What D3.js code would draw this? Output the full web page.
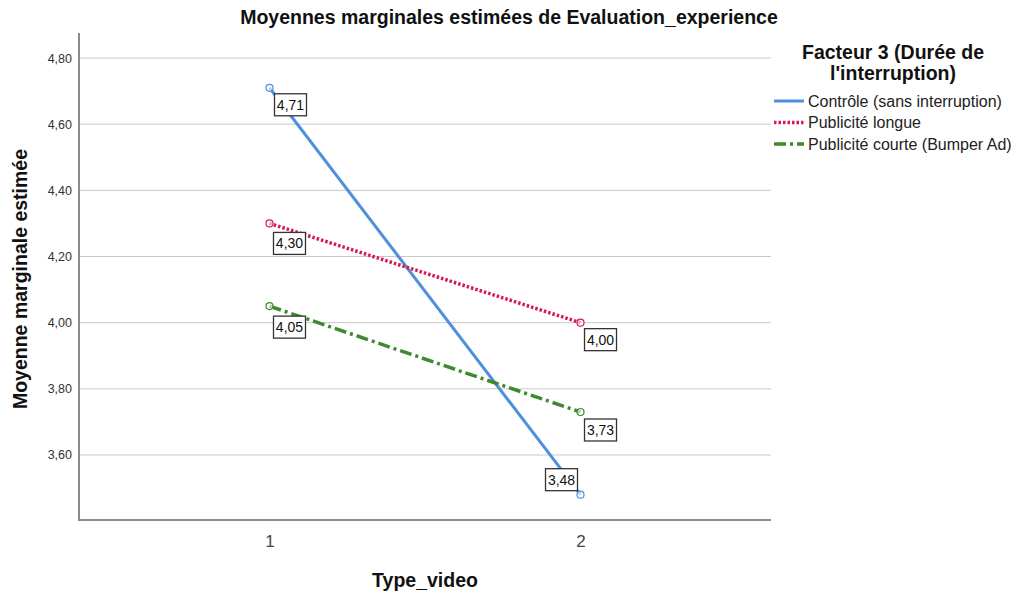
<!DOCTYPE html>
<html><head><meta charset="utf-8">
<script src="https://cdn.jsdelivr.net/npm/d3@7"></script>
<style>body{margin:0;background:#fff;}svg{display:block;font-family:Arial,"Liberation Sans",sans-serif;}</style>
</head><body>
<svg id="c" width="1017" height="591"></svg>
<script>
const categories = ["1", "2"];
const seriesNames = ["Contrôle (sans interruption)", "Publicité longue", "Publicité courte (Bumper Ad)"];
const controle = [4.71, 3.48];
const longue = [4.30, 4.00];
const courte = [4.05, 3.73];
const yTicks = [3.6, 3.8, 4.0, 4.2, 4.4, 4.6, 4.8];

const svg = d3.select("#c");
const L = 79, R = 771, T = 33, B = 520;
const x = d3.scalePoint().domain(categories).range([L, R]).padding(0.6125);
const y = d3.scaleLinear().domain([3.4035, 4.8756]).range([B, T]);
const fmt = v => d3.format(".2f")(v).replace(".", ",");

svg.append("g").selectAll("line").data(yTicks).join("line")
  .attr("x1", L).attr("x2", R).attr("y1", d => y(d)).attr("y2", d => y(d))
  .attr("stroke", "#c8c8c8").attr("stroke-width", 1);

const ya = svg.append("g").attr("transform", `translate(${L},0)`)
  .call(d3.axisLeft(y).tickValues(yTicks).tickSize(0).tickPadding(7).tickFormat(fmt));
ya.select(".domain").remove();
ya.selectAll("text").attr("font-size", 12.5).attr("fill", "#333").attr("font-family", "Arial, 'Liberation Sans', sans-serif");

const xa = svg.append("g").attr("transform", `translate(0,${B})`)
  .call(d3.axisBottom(x).tickSize(0).tickPadding(15));
xa.select(".domain").remove();
xa.selectAll("text").attr("font-size", 17).attr("fill", "#444").attr("font-family", "Arial, 'Liberation Sans', sans-serif");

svg.append("line").attr("x1", L).attr("x2", L).attr("y1", T).attr("y2", B + 1).attr("stroke", "#8c8c8c").attr("stroke-width", 2);
svg.append("line").attr("x1", L - 1).attr("x2", R).attr("y1", B).attr("y2", B).attr("stroke", "#8c8c8c").attr("stroke-width", 2);

const series = [
  {name: seriesNames[0], vals: controle, color: "#4f8fdc", dash: null, width: 3},
  {name: seriesNames[1], vals: longue, color: "#d8194f", dash: "2.5,2", width: 3.5},
  {name: seriesNames[2], vals: courte, color: "#3d8a2f", dash: "12,4,3,4", width: 3.5}
];
const labelOff = [
  [[5, 6], [-35, -26]],
  [[4, 9], [4, 6]],
  [[4, 10], [4, 7]]
];

const line = d3.line().x((d, i) => x(categories[i])).y(d => y(d));
series.forEach((s, si) => {
  svg.append("path").datum(s.vals).attr("d", line).attr("fill", "none")
    .attr("stroke", s.color).attr("stroke-width", s.width)
    .attr("stroke-dasharray", s.dash);
  svg.append("g").selectAll("circle").data(s.vals).join("circle")
    .attr("cx", (d, i) => x(categories[i])).attr("cy", d => y(d)).attr("r", 3.5)
    .attr("fill", "#fff").attr("fill-opacity", 0.6).attr("stroke", s.color).attr("stroke-width", 1.2);
});
series.forEach((s, si) => {
  s.vals.forEach((v, i) => {
    const px = x(categories[i]), py = y(v);
    const [dx, dy] = labelOff[si][i];
    const g = svg.append("g").attr("transform", `translate(${px + dx},${py + dy})`);
    g.append("rect").attr("width", 32).attr("height", 22).attr("fill", "#fff")
      .attr("stroke", "#333").attr("stroke-width", 1.3);
    g.append("text").attr("x", 16).attr("y", 16).attr("text-anchor", "middle")
      .attr("font-size", 14).attr("fill", "#111").text(fmt(v));
  });
});

svg.append("text").attr("x", 509).attr("y", 24).attr("text-anchor", "middle")
  .attr("font-size", 19.5).attr("font-weight", "bold").attr("fill", "#111")
  .text("Moyennes marginales estimées de Evaluation_experience");
svg.append("text").attr("x", 425).attr("y", 587).attr("text-anchor", "middle")
  .attr("font-size", 19.5).attr("font-weight", "bold").attr("fill", "#111").text("Type_video");
svg.append("text").attr("transform", "translate(27,279) rotate(-90)").attr("text-anchor", "middle")
  .attr("font-size", 19.5).attr("font-weight", "bold").attr("fill", "#111").text("Moyenne marginale estimée");

svg.append("text").attr("x", 893).attr("y", 59).attr("text-anchor", "middle")
  .attr("font-size", 19.5).attr("font-weight", "bold").attr("fill", "#111").text("Facteur 3 (Durée de");
svg.append("text").attr("x", 893).attr("y", 80).attr("text-anchor", "middle")
  .attr("font-size", 19.5).attr("font-weight", "bold").attr("fill", "#111").text("l'interruption)");
series.forEach((s, i) => {
  const ly = 101 + i * 21.5;
  svg.append("line").attr("x1", 774).attr("x2", 804).attr("y1", ly).attr("y2", ly)
    .attr("stroke", s.color).attr("stroke-width", s.width)
    .attr("stroke-dasharray", s.dash);
  svg.append("text").attr("x", 808).attr("y", ly + 5.5).attr("font-size", 16).attr("fill", "#222").text(s.name);
});
</script>
</body></html>
